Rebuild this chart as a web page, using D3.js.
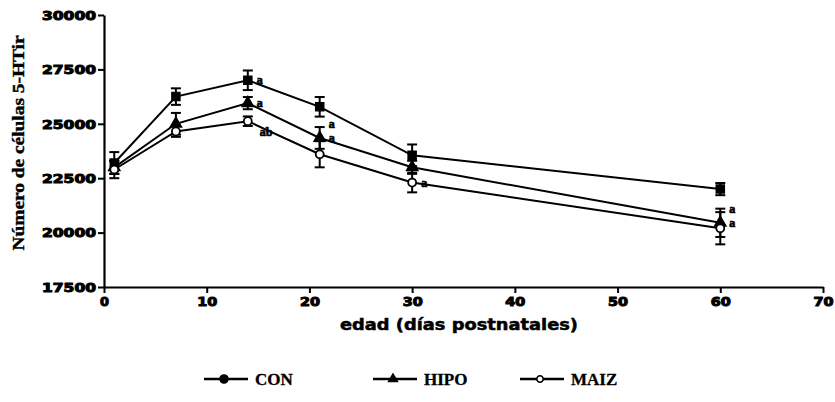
<!DOCTYPE html>
<html><head><meta charset="utf-8">
<script src="https://cdn.jsdelivr.net/npm/d3@7"></script>
<style>body{margin:0;background:#fff}</style>
</head><body>
<svg id="c" width="835" height="402"></svg>
<script>
const days = [1, 7, 14, 21, 30, 60];
const conMean = [23200, 26250, 27000, 25780, 23550, 22000];
const conErr  = [500, 380, 450, 450, 500, 280];
const hipoMean = [23000, 25000, 25950, 24350, 23000, 20450];
const hipoErr  = [300, 500, 280, 500, 300, 650];
const maizMean = [22900, 24650, 25120, 23600, 22300, 20200];
const maizErr  = [400, 250, 220, 600, 450, 740];
const xTicks = [0, 10, 20, 30, 40, 50, 60, 70];
const yTicks = [17500, 20000, 22500, 25000, 27500, 30000];
const seriesNames = ["CON", "HIPO", "MAIZ"];
// significance marks: [series, day index, label]
const marks = [
  ["CON", 2, "a"], ["HIPO", 2, "a"], ["MAIZ", 2, "ab"],
  ["HIPO", 3, "a"], ["HIPO", 3, "a2"], ["MAIZ", 4, "a"],
  ["HIPO", 5, "a"], ["HIPO", 5, "a2"]
];

const svg = d3.select("#c");
const x = d3.scaleLinear().domain([0, 70]).range([104, 823]);
const y = d3.scaleLinear().domain([17500, 30000]).range([287, 15]);

const series = [
  {name: "CON", mean: conMean, err: conErr, sym: d3.symbolSquare, size: 60, fill: "#000"},
  {name: "HIPO", mean: hipoMean, err: hipoErr, sym: d3.symbolTriangle, size: 50, fill: "#000"},
  {name: "MAIZ", mean: maizMean, err: maizErr, sym: d3.symbolCircle, size: 50, fill: "#fff"}
];

// axes
const xAxis = d3.axisBottom(x).tickValues(xTicks).tickSize(6).tickSizeOuter(0).tickFormat(d3.format("d"));
const yAxis = d3.axisLeft(y).tickValues(yTicks).tickSize(6).tickSizeOuter(0).tickFormat(d3.format("d"));
const gx = svg.append("g").attr("transform", "translate(0,287)").call(xAxis);
const gy = svg.append("g").attr("transform", "translate(104,0)").call(yAxis);
[gx, gy].forEach(g => {
  g.select(".domain").attr("stroke", "#000").attr("stroke-width", 2.2);
  g.selectAll(".tick line").attr("stroke", "#000").attr("stroke-width", 2);
  g.selectAll(".tick text").attr("fill", "#000")
    .style("font-family", "DejaVu Sans").style("font-weight", "bold").style("font-size", "12px")
    .attr("stroke", "#000").attr("stroke-width", 1);
});
gy.selectAll(".tick text").attr("x", -8).attr("dy", "0.35em")
  .attr("textLength", 54).attr("lengthAdjust", "spacingAndGlyphs");
gx.selectAll(".tick text").attr("y", 10)
  .attr("textLength", d => d === 0 ? 9 : 20).attr("lengthAdjust", "spacingAndGlyphs");

// titles
svg.append("text").attr("x", 459).attr("y", 330).attr("text-anchor", "middle")
  .style("font-family", "DejaVu Sans").style("font-weight", "bold").style("font-size", "15px")
  .attr("stroke", "#000").attr("stroke-width", 0.5)
  .attr("textLength", 238).attr("lengthAdjust", "spacingAndGlyphs")
  .text("edad (días postnatales)");
svg.append("text").attr("transform", "translate(24,143) rotate(-90)").attr("text-anchor", "middle")
  .style("font-family", "Liberation Serif").style("font-weight", "bold").style("font-size", "17px")
  .attr("stroke", "#000").attr("stroke-width", 0.4)
  .attr("textLength", 215).attr("lengthAdjust", "spacingAndGlyphs")
  .text("Número de células 5-HTir");

// lines, error bars, markers
const line = d3.line().x((d, i) => x(days[i])).y(d => y(d));
series.forEach(s => {
  svg.append("path").attr("d", line(s.mean)).attr("fill", "none")
    .attr("stroke", "#000").attr("stroke-width", 2);
  const g = svg.append("g");
  s.mean.forEach((m, i) => {
    const cx = x(days[i]);
    g.append("line").attr("x1", cx).attr("x2", cx).attr("y1", y(m - s.err[i])).attr("y2", y(m + s.err[i]))
      .attr("stroke", "#000").attr("stroke-width", 2);
    [m - s.err[i], m + s.err[i]].forEach(v => g.append("line")
      .attr("x1", cx - 5).attr("x2", cx + 5).attr("y1", y(v)).attr("y2", y(v))
      .attr("stroke", "#000").attr("stroke-width", 2));
    g.append("path").attr("d", d3.symbol(s.sym, s.size)())
      .attr("transform", `translate(${cx},${y(m)})`)
      .attr("fill", s.fill).attr("stroke", "#000").attr("stroke-width", 1.8);
  });
});

// significance marks
marks.forEach(([nm, i, lab]) => {
  const s = series.find(q => q.name === nm);
  const cx = x(days[i]);
  let cy = y(s.mean[i]);
  let dx = 9, dy = 4;
  if (lab === "a2") dy = -10;
  if (nm === "MAIZ" && i === 2) { dx = 12; dy = 15; }
  svg.append("text").attr("x", cx + dx).attr("y", cy + dy)
    .style("font-family", "Liberation Serif").style("font-weight", "bold").style("font-size", "12px")
    .attr("stroke", "#000").attr("stroke-width", 0.7)
    .text(lab === "a2" ? "a" : lab);
});

// legend
const legX = [204, 373, 520];
const legG = svg.append("g");
series.forEach((s, k) => {
  const lx = legX[k], ly = 379;
  legG.append("line").attr("x1", lx).attr("x2", lx + 44).attr("y1", ly).attr("y2", ly)
    .attr("stroke", "#000").attr("stroke-width", 2.4);
  legG.append("path").attr("d", d3.symbol(k === 0 ? d3.symbolCircle : s.sym, k === 0 ? 50 : 32)())
    .attr("transform", `translate(${lx + 20},${ly})`)
    .attr("fill", s.fill).attr("stroke", "#000").attr("stroke-width", 1.6);
  legG.append("text").attr("x", lx + 51).attr("y", ly + 6)
    .style("font-family", "Liberation Serif").style("font-weight", "bold").style("font-size", "17px")
    .attr("stroke", "#000").attr("stroke-width", 0.3)
    .text(seriesNames[k]);
});
</script>
</body></html>
